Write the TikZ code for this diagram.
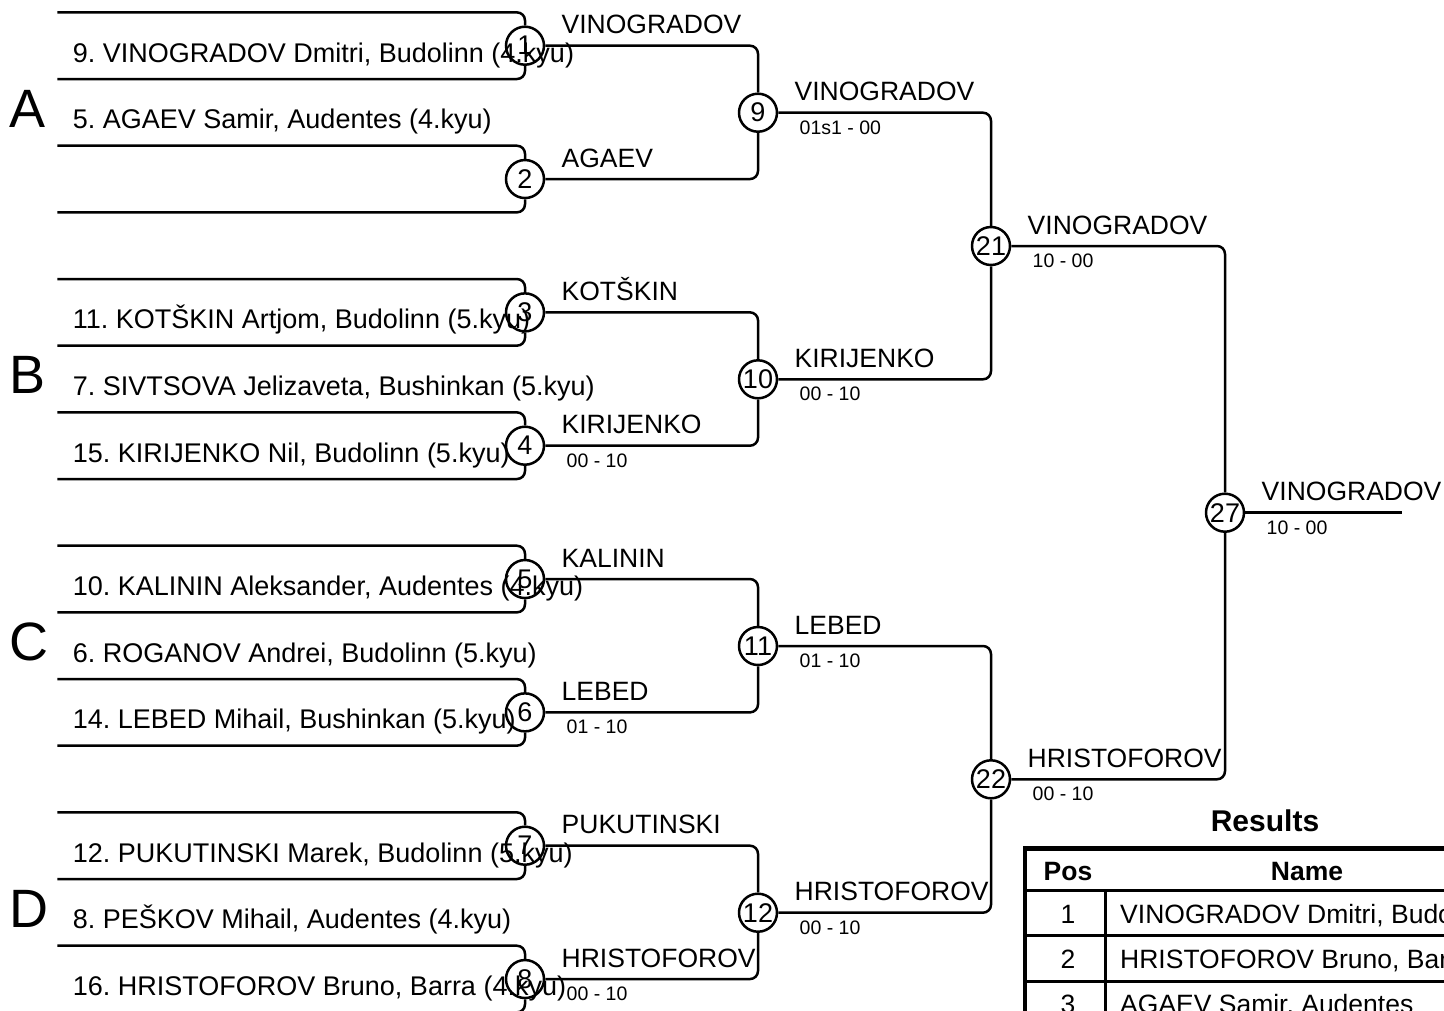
\documentclass[tikz,border=0pt]{standalone}
\usepackage{fontspec}
\setmainfont{Liberation Sans}
\usetikzlibrary{calc}
\newcommand\fsz[1]{\fontsize{#1}{#1}\selectfont}
\frenchspacing
\begin{document}
\begin{tikzpicture}[x=1pt,y=-1pt,
  ln/.style={line width=2.5pt, rounded corners=8pt},
  mc/.style={circle, draw, line width=2.5pt, minimum size=38pt, inner sep=0pt, font=\fsz{27}},
  pname/.style={anchor=base west, inner sep=0pt, font=\fsz{27}},
  grp/.style={anchor=base west, inner sep=0pt, font=\fsz{54}},
  win/.style={anchor=base west, inner sep=0pt, font=\fsz{26.5}},
  score/.style={anchor=base west, inner sep=0pt, font=\fsz{19.5}},
  tb/.style={anchor=base, inner sep=0pt, font=\bfseries\fsz{26.5}},
  tt/.style={inner sep=0pt, font=\fsz{26.5}}]
\useasboundingbox (0,0) rectangle (1444,1010);
\clip (0,0) rectangle (1444,1010);

% first round brackets
\foreach \k in {1,...,8}{
  \pgfmathsetmacro\yy{45.7+133.333*(\k-1)}
  \node[mc] (c\k) at (525,\yy) {\k};
  \coordinate (t\k) at (57.3,\yy-33.3);
  \coordinate (b\k) at (57.3,\yy+33.3);
  \draw[ln] (t\k) -- (t\k -| c\k) -- (c\k.north);
  \draw[ln] (b\k) -- (b\k -| c\k) -- (c\k.south);
}

% later rounds
\node[mc] (c9)  at (758,112.7) {9};
\node[mc] (c10) at (758,379.3) {10};
\node[mc] (c11) at (758,646) {11};
\node[mc] (c12) at (758,912.7) {12};
\node[mc] (c21) at (991,246) {21};
\node[mc] (c22) at (991,779.3) {22};
\node[mc] (c27) at (1225,512.7) {27};
\coordinate (fin) at (1402,512.7);

\draw[ln] (c1.east) -| (c9.north);
\draw[ln] (c2.east) -| (c9.south);
\draw[ln] (c3.east) -| (c10.north);
\draw[ln] (c4.east) -| (c10.south);
\draw[ln] (c5.east) -| (c11.north);
\draw[ln] (c6.east) -| (c11.south);
\draw[ln] (c7.east) -| (c12.north);
\draw[ln] (c8.east) -| (c12.south);
\draw[ln] (c9.east) -| (c21.north);
\draw[ln] (c10.east) -| (c21.south);
\draw[ln] (c11.east) -| (c22.north);
\draw[ln] (c12.east) -| (c22.south);
\draw[ln] (c21.east) -| (c27.north);
\draw[ln] (c22.east) -| (c27.south);
\draw[ln] (c27.east) -- (fin);

% player names
\node[pname] (p1)  at (72.7,62)    {9. VINOGRADOV Dmitri, Budolinn (4.kyu)};
\node[pname] (p2)  at (72.7,128.7) {5. AGAEV Samir, Audentes (4.kyu)};
\node[pname] (p3)  at (72.7,328.6) {11. KOTŠKIN Artjom, Budolinn (5.kyu)};
\node[pname] (p4)  at (72.7,395.4) {7. SIVTSOVA Jelizaveta, Bushinkan (5.kyu)};
\node[pname] (p5)  at (72.7,462)   {15. KIRIJENKO Nil, Budolinn (5.kyu)};
\node[pname] (p6)  at (72.7,595.3) {10. KALININ Aleksander, Audentes (4.kyu)};
\node[pname] (p7)  at (72.7,662)   {6. ROGANOV Andrei, Budolinn (5.kyu)};
\node[pname] (p8)  at (72.7,728.6) {14. LEBED Mihail, Bushinkan (5.kyu)};
\node[pname] (p9)  at (72.7,862)   {12. PUKUTINSKI Marek, Budolinn (5.kyu)};
\node[pname] (p10) at (72.7,928.7) {8. PEŠKOV Mihail, Audentes (4.kyu)};
\node[pname] (p11) at (72.7,995.3) {16. HRISTOFOROV Bruno, Barra (4.kyu)};

% group letters
\node[grp] (gA) at (9,127)   {A};
\node[grp] (gB) at (9,393.7) {B};
\node[grp] (gC) at (9,660.3) {C};
\node[grp] (gD) at (9,927)   {D};

% winners and scores
\foreach \c/\w/\s in {c1/VINOGRADOV/, c2/AGAEV/, c3/KOTŠKIN/, c4/KIRIJENKO/00 - 10,
  c5/KALININ/, c6/LEBED/01 - 10, c7/PUKUTINSKI/, c8/HRISTOFOROV/00 - 10,
  c9/VINOGRADOV/01s1 - 00, c10/KIRIJENKO/00 - 10, c11/LEBED/01 - 10, c12/HRISTOFOROV/00 - 10,
  c21/VINOGRADOV/10 - 00, c22/HRISTOFOROV/00 - 10, c27/VINOGRADOV/10 - 00}{
  \node[win] (w\c) at ($(\c)+(36.5,-12)$) {\w};
  \node[score] (s\c) at ($(\c)+(41.5,21.5)$) {\s};
}

% results table
\node[anchor=base, inner sep=0pt, font=\bfseries\fsz{30}] (res) at (1265,831.7) {Results};
\draw[line width=2.5pt] (1025,890.5) -- (1507,890.5);
\draw[line width=2.5pt] (1025,935.3) -- (1507,935.3);
\draw[line width=2.5pt] (1025,981.3) -- (1507,981.3);
\draw[line width=2.5pt] (1025,1027) -- (1507,1027);
\draw[line width=2.5pt] (1105.3,890.5) -- (1105.3,1060);
\draw[line width=4.6pt] (1025,1060) -- (1025,848.5) -- (1507,848.5) -- (1507,1060);
\node[tb] (hpos) at (1068,880) {Pos};
\node[tb] (hname) at (1307,880) {Name};
\node[tt, anchor=base] (r1p) at (1068,923.3) {1};
\node[tt, anchor=base west] (r1n) at (1120,923.3) {VINOGRADOV Dmitri, Budolinn};
\node[tt, anchor=base] (r2p) at (1068,968.5) {2};
\node[tt, anchor=base west] (r2n) at (1120,968.5) {HRISTOFOROV Bruno, Barra};
\node[tt, anchor=base] (r3p) at (1068,1013) {3};
\node[tt, anchor=base west] (r3n) at (1120,1013) {AGAEV Samir, Audentes};
\end{tikzpicture}
\end{document}
